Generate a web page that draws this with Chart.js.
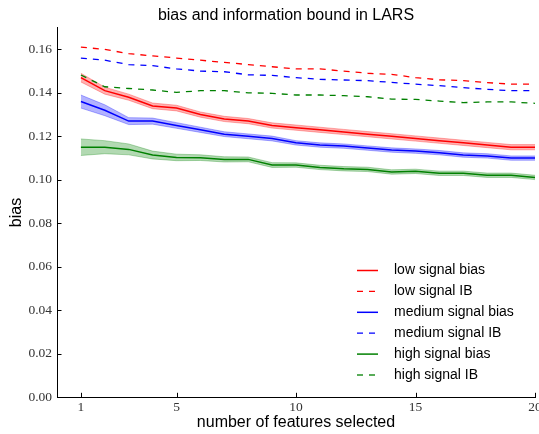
<!DOCTYPE html>
<html>
<head>
<meta charset="utf-8">
<script src="https://cdn.jsdelivr.net/npm/chart.js@4/dist/chart.umd.min.js"></script>
<style>
    body { margin: 0; background: #ffffff; }
    #wrap { width: 539px; height: 434px; }
</style>
</head>
<body>
<div id="wrap"><canvas id="larsChart" width="539" height="434"></canvas></div>
<script>
// Données
const features = [1, 2, 3, 4, 5, 6, 7, 8, 9, 10, 11, 12, 13, 14, 15, 16, 17, 18, 19, 20];

const lowBias = [0.147, 0.141, 0.138, 0.134, 0.133, 0.130, 0.128, 0.127, 0.125, 0.124,
                 0.123, 0.122, 0.121, 0.120, 0.119, 0.118, 0.117, 0.116, 0.115, 0.115];
const lowIB = [0.161, 0.160, 0.158, 0.157, 0.156, 0.155, 0.154, 0.153, 0.152, 0.151,
               0.151, 0.150, 0.149, 0.1485, 0.147, 0.146, 0.1456, 0.1447, 0.144, 0.144];
const medBias = [0.136, 0.132, 0.127, 0.127, 0.125, 0.123, 0.121, 0.120, 0.119, 0.117,
                 0.116, 0.1155, 0.1146, 0.1137, 0.1132, 0.1125, 0.1114, 0.111, 0.110, 0.110];
const medIB = [0.156, 0.155, 0.153, 0.1525, 0.151, 0.150, 0.1497, 0.1483, 0.148, 0.147,
               0.1462, 0.1459, 0.1456, 0.1448, 0.144, 0.1433, 0.1424, 0.1416, 0.141, 0.141];
const highBias = [0.115, 0.115, 0.114, 0.1114, 0.1103, 0.1102, 0.1094, 0.1094, 0.1068, 0.1068,
                  0.1057, 0.1051, 0.1048, 0.1036, 0.1039, 0.103, 0.103, 0.1021, 0.1021, 0.1011];
const highIB = [0.1482, 0.1428, 0.142, 0.1413, 0.1402, 0.141, 0.141, 0.140, 0.1398, 0.139,
                0.139, 0.1387, 0.1382, 0.1371, 0.137, 0.1362, 0.1355, 0.1358, 0.1358, 0.1352];

// Demi-largeur des bandes autour des biais
const lowSpread = [0.002, 0.0016, 0.0014, 0.0013, 0.0013, 0.0012, 0.0012, 0.0012, 0.0012, 0.0012,
                   0.0012, 0.0012, 0.0012, 0.0012, 0.0012, 0.0012, 0.0012, 0.0012, 0.0012, 0.0012];
const medSpread = [0.003, 0.0025, 0.0016, 0.0014, 0.0013, 0.0012, 0.0011, 0.0011, 0.0011, 0.001,
                   0.001, 0.001, 0.001, 0.001, 0.001, 0.001, 0.001, 0.001, 0.001, 0.001];
const highSpread = [0.0038, 0.003, 0.0025, 0.0018, 0.0015, 0.0013, 0.0012, 0.0011, 0.0011, 0.001,
                    0.001, 0.001, 0.001, 0.001, 0.001, 0.001, 0.001, 0.001, 0.001, 0.001];

const xTicks = [1, 5, 10, 15, 20];
const yTicks = [0.00, 0.02, 0.04, 0.06, 0.08, 0.10, 0.12, 0.14, 0.16];

const seriesLabels = ['low signal bias', 'low signal IB', 'medium signal bias',
                      'medium signal IB', 'high signal bias', 'high signal IB'];

const RED = '#ff0000';
const BLUE = '#0000ff';
const GREEN = '#008000';

function points(values) {
    return features.map((f, i) => ({ x: f, y: values[i] }));
}

function shifted(values, spread, sign) {
    return features.map((f, i) => ({ x: f, y: values[i] + sign * spread[i] }));
}

function lineSet(label, values, color, dashed) {
    return {
        label: label,
        data: points(values),
        borderColor: color,
        borderWidth: dashed ? 1.3 : 1.5,
        borderDash: dashed ? [6, 6] : [],
        pointRadius: 0,
        tension: 0,
        fill: false
    };
}

function bandSets(values, spread, fillColor) {
    return [{
        label: '_band',
        data: shifted(values, spread, 1),
        borderWidth: 1,
        borderColor: fillColor,
        backgroundColor: fillColor,
        pointRadius: 0,
        tension: 0,
        fill: '+1'
    }, {
        label: '_band',
        data: shifted(values, spread, -1),
        borderWidth: 1,
        borderColor: fillColor,
        pointRadius: 0,
        tension: 0,
        fill: false
    }];
}

/**
 * Textes, graduations et légende dessinés à la main
 */
const decorPlugin = {
    id: 'decor',
    afterDraw(chart) {
        const ctx = chart.ctx;
        const xs = chart.scales.x;
        const ys = chart.scales.y;
        const area = chart.chartArea;
        ctx.save();

        // graduations vers l'intérieur
        ctx.strokeStyle = '#000000';
        ctx.lineWidth = 1;
        ctx.beginPath();
        yTicks.forEach(v => {
            const py = Math.round(ys.getPixelForValue(v)) + 0.5;
            ctx.moveTo(area.left, py);
            ctx.lineTo(area.left + 4.5, py);
        });
        xTicks.forEach(v => {
            const px = Math.round(xs.getPixelForValue(v)) + 0.5;
            ctx.moveTo(px, area.bottom);
            ctx.lineTo(px, area.bottom - 4.5);
        });
        ctx.stroke();

        // étiquettes des graduations
        ctx.fillStyle = '#333333';
        ctx.font = '13.5px "Liberation Serif"';
        ctx.textAlign = 'right';
        ctx.textBaseline = 'middle';
        yTicks.forEach(v => {
            ctx.fillText(v.toFixed(2), area.left - 5, ys.getPixelForValue(v));
        });
        ctx.textAlign = 'center';
        ctx.textBaseline = 'top';
        xTicks.forEach(v => {
            ctx.fillText(String(v), xs.getPixelForValue(v), area.bottom + 3);
        });

        // titres
        ctx.fillStyle = '#000000';
        ctx.font = '16px "Liberation Sans"';
        ctx.textBaseline = 'middle';
        ctx.fillText('bias and information bound in LARS', 286, 16);
        ctx.fillText('number of features selected', (area.left + area.right) / 2, 423);
        ctx.save();
        ctx.translate(17, (area.top + area.bottom) / 2);
        ctx.rotate(-Math.PI / 2);
        ctx.fillText('bias', 0, 0);
        ctx.restore();

        // légende
        ctx.font = '14px "Liberation Sans"';
        ctx.textAlign = 'left';
        seriesLabels.forEach((label, i) => {
            const ds = chart.data.datasets[i];
            const rowY = 270.5 + i * 20.9;
            ctx.strokeStyle = ds.borderColor;
            ctx.lineWidth = ds.borderWidth;
            ctx.setLineDash(ds.borderDash);
            ctx.beginPath();
            ctx.moveTo(357, rowY);
            ctx.lineTo(378, rowY);
            ctx.stroke();
            ctx.setLineDash([]);
            ctx.fillStyle = '#000000';
            ctx.fillText(label, 394, rowY);
        });

        ctx.restore();
    }
};

const datasets = [
    lineSet(seriesLabels[0], lowBias, RED, false),
    lineSet(seriesLabels[1], lowIB, RED, true),
    lineSet(seriesLabels[2], medBias, BLUE, false),
    lineSet(seriesLabels[3], medIB, BLUE, true),
    lineSet(seriesLabels[4], highBias, GREEN, false),
    lineSet(seriesLabels[5], highIB, GREEN, true)
].concat(
    bandSets(lowBias, lowSpread, 'rgba(255, 0, 0, 0.3)'),
    bandSets(medBias, medSpread, 'rgba(0, 0, 255, 0.3)'),
    bandSets(highBias, highSpread, 'rgba(0, 128, 0, 0.3)')
);

new Chart(document.getElementById('larsChart'), {
    type: 'line',
    data: { datasets: datasets },
    options: {
        responsive: false,
        animation: false,
        layout: { padding: { top: 27.6, right: 4, left: 0, bottom: 0 } },
        plugins: {
            legend: { display: false },
            title: { display: false },
            tooltip: { enabled: false }
        },
        scales: {
            x: {
                type: 'linear',
                min: 0,
                max: 20,
                grid: { display: false },
                border: { display: true, color: '#000000', width: 1 },
                ticks: { display: false },
                afterFit: scale => { scale.height = 36.7; }
            },
            y: {
                type: 'linear',
                min: 0,
                max: 0.17,
                grid: { display: false },
                border: { display: true, color: '#000000', width: 1 },
                ticks: { display: false },
                afterFit: scale => { scale.width = 57; }
            }
        }
    },
    plugins: [decorPlugin]
});
</script>
</body>
</html>
